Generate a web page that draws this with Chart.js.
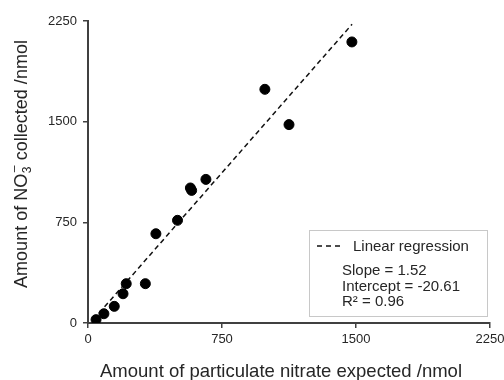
<!DOCTYPE html>
<html>
<head>
<meta charset="utf-8">
<script src="https://cdn.jsdelivr.net/npm/chart.js@4.4.1/dist/chart.umd.min.js"></script>
<style>
  html,body{margin:0;padding:0;background:#fff;}
  #wrap{position:relative;width:504px;height:380px;}
</style>
</head>
<body>
<div id="wrap"><canvas id="c" width="504" height="380"></canvas></div>
<script>
  // data
  const expected  = [45, 89, 147, 196, 214, 321, 380, 501, 573, 580, 660, 990, 1125, 1477];
  const collected = [25, 69, 124, 218, 293, 293, 665, 765, 1006, 988, 1070, 1741, 1478, 2094];
  const axisTicks = [0, 750, 1500, 2250];
  const slope = 1.52, intercept = -20.61, r2 = 0.96;
  const fitRange = [30, 1478];

  const FONT = "'Liberation Sans', Arial, sans-serif";
  const INK = '#262626';
  const AXIS = '#404040';

  const points = expected.map((x,i)=>({x, y: collected[i]}));
  const fit = fitRange.map(x=>({x, y: slope*x + intercept}));

  // titles + stats box, drawn after the chart
  const extras = {
    id:'extras',
    afterDraw(chart){
      const ctx = chart.ctx, a = chart.chartArea;
      ctx.save();
      ctx.fillStyle = INK;

      // x title
      ctx.font = '18.5px ' + FONT;
      ctx.textAlign = 'center'; ctx.textBaseline = 'alphabetic';
      ctx.fillText('Amount of particulate nitrate expected /nmol', 281, 377);

      // y title with NO3- sub/superscript
      const big = '18px ' + FONT, small = '12px ' + FONT;
      const p1 = 'Amount of NO', p3 = ' collected /nmol';
      ctx.font = big; const w1 = ctx.measureText(p1).width, w3 = ctx.measureText(p3).width;
      ctx.font = small; const w2 = ctx.measureText('3').width + 2;
      const total = w1 + w2 + w3;
      ctx.translate(27, 164);
      ctx.rotate(-Math.PI/2);
      ctx.textAlign = 'left';
      let x = -total/2;
      ctx.font = big; ctx.fillText(p1, x, 0); x += w1;
      ctx.font = small; ctx.fillText('3', x + 0.5, 4); ctx.fillText('\u2013', x + 1.5, -9); x += w2;
      ctx.font = big; ctx.fillText(p3, x, 0);
      ctx.setTransform(1,0,0,1,0,0);

      // stats box
      const bx = a.right - 181, by = a.bottom - 93, bw = 178, bh = 86;
      ctx.strokeStyle = '#c8c8c8'; ctx.lineWidth = 1;
      ctx.fillStyle = '#fff';
      ctx.fillRect(bx, by, bw, bh);
      ctx.strokeRect(bx + .5, by + .5, bw, bh);

      ctx.strokeStyle = '#111'; ctx.lineWidth = 1.5; ctx.setLineDash([5,4]);
      ctx.beginPath(); ctx.moveTo(bx + 8, by + 16); ctx.lineTo(bx + 34, by + 16); ctx.stroke();
      ctx.setLineDash([]);

      ctx.fillStyle = INK;
      ctx.font = '15px ' + FONT; ctx.textAlign = 'left'; ctx.textBaseline = 'alphabetic';
      ctx.fillText('Linear regression', bx + 44, by + 21);
      ctx.fillText('Slope = ' + slope.toFixed(2), bx + 33, by + 45);
      ctx.fillText('Intercept = ' + intercept.toFixed(2), bx + 33, by + 61);
      ctx.fillText('R\u00B2 = ' + r2.toFixed(2), bx + 33, by + 76);
      ctx.restore();
    }
  };

  const tickFont = {family: FONT, size: 13};
  const plain = v => String(v);

  new Chart(document.getElementById('c'), {
    type:'scatter',
    data:{
      datasets:[
        { label:'Measured', data: points, backgroundColor:'#000', borderColor:'#000',
          pointRadius:5, pointHoverRadius:5, order:1 },
        { label:'Linear regression', data: fit, showLine:true, borderColor:'#111',
          borderWidth:1.5, borderDash:[5,3.5], pointRadius:0, fill:false, order:2 }
      ]
    },
    options:{
      responsive:false,
      animation:false,
      layout:{ padding:{ top:21, right:0, left:0, bottom:0 } },
      plugins:{ legend:{display:false}, tooltip:{enabled:false} },
      scales:{
        x:{
          type:'linear', min:0, max:2250,
          afterBuildTicks: s=>{ s.ticks = axisTicks.map(v=>({value:v})); },
          afterFit: s=>{ s.height = 57; s.paddingRight = 14; },
          ticks:{ color:INK, font:tickFont, padding:4, maxRotation:0, callback: plain },
          grid:{ drawOnChartArea:false, drawTicks:true, tickLength:5, color:AXIS, lineWidth:1.5 },
          border:{ display:true, color:AXIS, width:2 }
        },
        y:{
          type:'linear', min:0, max:2250,
          afterBuildTicks: s=>{ s.ticks = axisTicks.map(v=>({value:v})); },
          afterFit: s=>{ s.width = 88; },
          ticks:{ color:INK, font:tickFont, padding:6, callback: plain },
          grid:{ drawOnChartArea:false, drawTicks:true, tickLength:5, color:AXIS, lineWidth:1.5 },
          border:{ display:true, color:AXIS, width:2 }
        }
      }
    },
    plugins:[extras]
  });
</script>
</body>
</html>
